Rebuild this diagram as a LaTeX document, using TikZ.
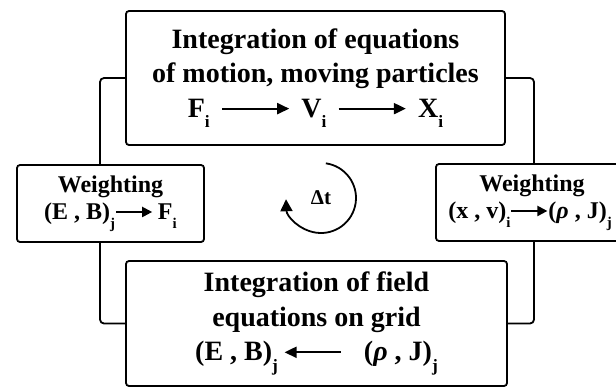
\documentclass[tikz,border=0pt]{standalone}
\usepackage{fontspec}
\setmainfont{Liberation Serif}
\usetikzlibrary{arrows.meta}

\newcommand{\lowsub}[1]{\raisebox{-.38em}{\scalebox{.62}{#1}}}
\newcommand{\fatarrow}[2]{\tikz[baseline=-0.3em]\draw[line width=2pt, #1] (0,0) -- (#2,0);}
\newcommand{\longto}{\hspace{.4em}\fatarrow{-{Triangle[length=12pt,width=11pt]}}{2.4em}\hspace{.4em}}
\newcommand{\longfrom}{\hspace{.2em}\fatarrow{{Triangle[length=12pt,width=11pt]}-}{2em}\hspace{.8em}}
\newcommand{\shortto}{\fatarrow{-{Triangle[length=10pt,width=10pt]}}{1.5em}}

\begin{document}
\begin{tikzpicture}[
    x=1pt, y=-1pt,
    line width=1.8pt,
    stagebox/.style={draw, rectangle, rounded corners=3pt, inner sep=0pt, align=center, font=\fontsize{28}{34.5}\selectfont\bfseries},
    weightbox/.style={draw, rectangle, rounded corners=3pt, inner sep=0pt, align=center, minimum height=77pt, font=\fontsize{24}{27}\selectfont\bfseries},
    link/.style={rounded corners=4pt}
]
    \useasboundingbox (0,0) rectangle (616,388);

    \node[stagebox, minimum width=379pt, minimum height=134pt] (motion) at (315.5,78)
        {Integration of equations\\ of motion, moving particles\\ F\lowsub{i}\longto V\lowsub{i}\longto X\lowsub{i}};
    \node[stagebox, minimum width=381pt, minimum height=125pt] (field) at (316.5,323.5)
        {Integration of field\\ equations on grid\\ (E , B)\lowsub{j}\longfrom(\textit{ρ} , J)\lowsub{j}};

    \node[weightbox, minimum width=187pt] (wleft) at (110.5,203.5) {Weighting\\ (E , B)\lowsub{j}\shortto\hspace{.2em}F\lowsub{i}};
    \node[weightbox, minimum width=192pt] (wright) at (532,202.5) {Weighting\\ \hspace*{-4pt}(x , v)\lowsub{i}\shortto(\textit{ρ} , J)\lowsub{j}};

    \draw[link] (motion.west) -| ([xshift=-10.5pt]wleft.north);
    \draw[link] ([xshift=-10.5pt]wleft.south) |- (field.west);
    \draw[link] (motion.east) -| ([xshift=2pt]wright.north);
    \draw[link] ([xshift=2pt]wright.south) |- (field.east);

    % time step loop
    \coordinate (hub) at (321,198);
    \node[font=\fontsize{21}{21}\selectfont\bfseries] (dt) at (hub) {Δt};
    \draw[-{Triangle[length=12pt,width=12pt]}] ([shift={(82:35pt)}]hub) arc[start angle=82, end angle=-178, radius=35pt];
\end{tikzpicture}
\end{document}
